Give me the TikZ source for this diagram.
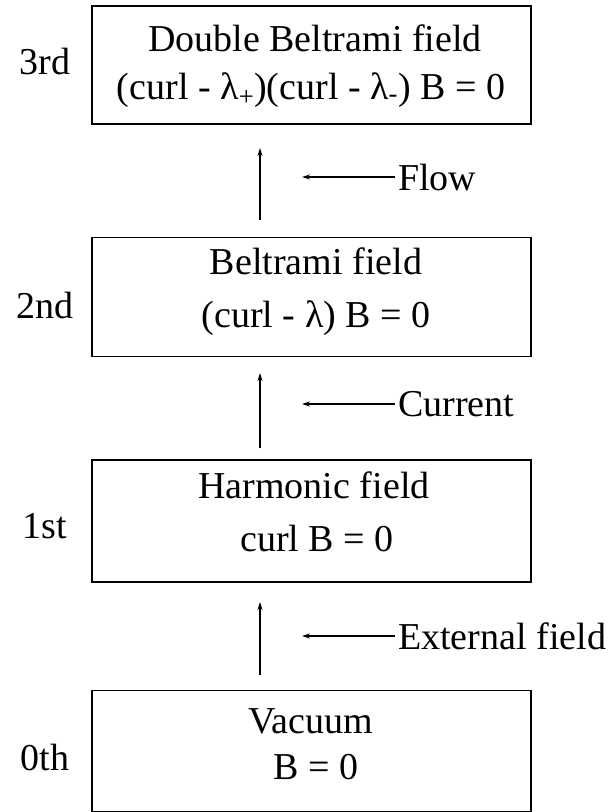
\documentclass[tikz,border=0pt]{standalone}
\usepackage{fontspec}
\setmainfont{Liberation Serif}
\usetikzlibrary{arrows.meta}
\begin{document}
\begin{tikzpicture}[x=1pt,y=-1pt,
  box/.style={draw, line width=1.2pt, minimum width=439pt, inner sep=0pt},
  txt/.style={font=\fontsize{38}{44}\selectfont, inner sep=0pt, anchor=base},
  lbl/.style={font=\fontsize{38}{44}\selectfont, inner sep=0pt, anchor=base},
  side/.style={font=\fontsize{38}{44}\selectfont, inner sep=0pt, anchor=west},
  up/.style={line width=1.2pt, -{Stealth[length=8pt,width=5pt]}},
  lft/.style={line width=1.2pt, -{Stealth[length=8pt,width=5pt]}, shorten <=3pt},
]
\useasboundingbox (0,0) rectangle (612,812);
% boxes
\node[box, minimum height=118pt] (b3) at (311.5,65) {};
\node[box, minimum height=119pt] (b2) at (311.5,297) {};
\node[box, minimum height=122pt] (b1) at (311.5,521) {};
\node[box, minimum height=121pt] (b0) at (311.5,751) {};
% box texts
\node[txt] (t3a) at (315,51) {Double Beltrami field};
\node[txt] (t3b) at (311,99) {(curl - λ\textsubscript{+})(curl - λ\textsubscript{-}) B = 0};
\node[txt] (t2a) at (316,274) {Beltrami field};
\node[txt] (t2b) at (316,327) {(curl - λ) B = 0};
\node[txt] (t1a) at (314,498) {Harmonic field};
\node[txt] (t1b) at (317,551) {curl B = 0};
\node[txt] (t0a) at (311,733) {Vacuum};
\node[txt] (t0b) at (316,779) {B = 0};
% order labels
\node[lbl] (l3) at (45,74) {3rd};
\node[lbl] (l2) at (45,318) {2nd};
\node[lbl] (l1) at (45,538) {1st};
\node[lbl] (l0) at (45,770) {0th};
% upward arrows
\coordinate (u1s) at (260,220); \coordinate (u1e) at (260,148);
\coordinate (u2s) at (260,448); \coordinate (u2e) at (260,373);
\coordinate (u3s) at (260,675); \coordinate (u3e) at (260,602);
\draw[up] (u1s) -- (u1e);
\draw[up] (u2s) -- (u2e);
\draw[up] (u3s) -- (u3e);
% side labels with arrows
\node[side] (flow) at (398,177) {Flow};
\node[side] (cur) at (398,404) {Current};
\node[side] (ext) at (398,636) {External field};
\coordinate (f1) at (302,177);
\coordinate (f2) at (302,404);
\coordinate (f3) at (302,636);
\draw[lft] (flow.west) -- (f1);
\draw[lft] (cur.west) -- (f2);
\draw[lft] (ext.west) -- (f3);
\end{tikzpicture}
\end{document}
